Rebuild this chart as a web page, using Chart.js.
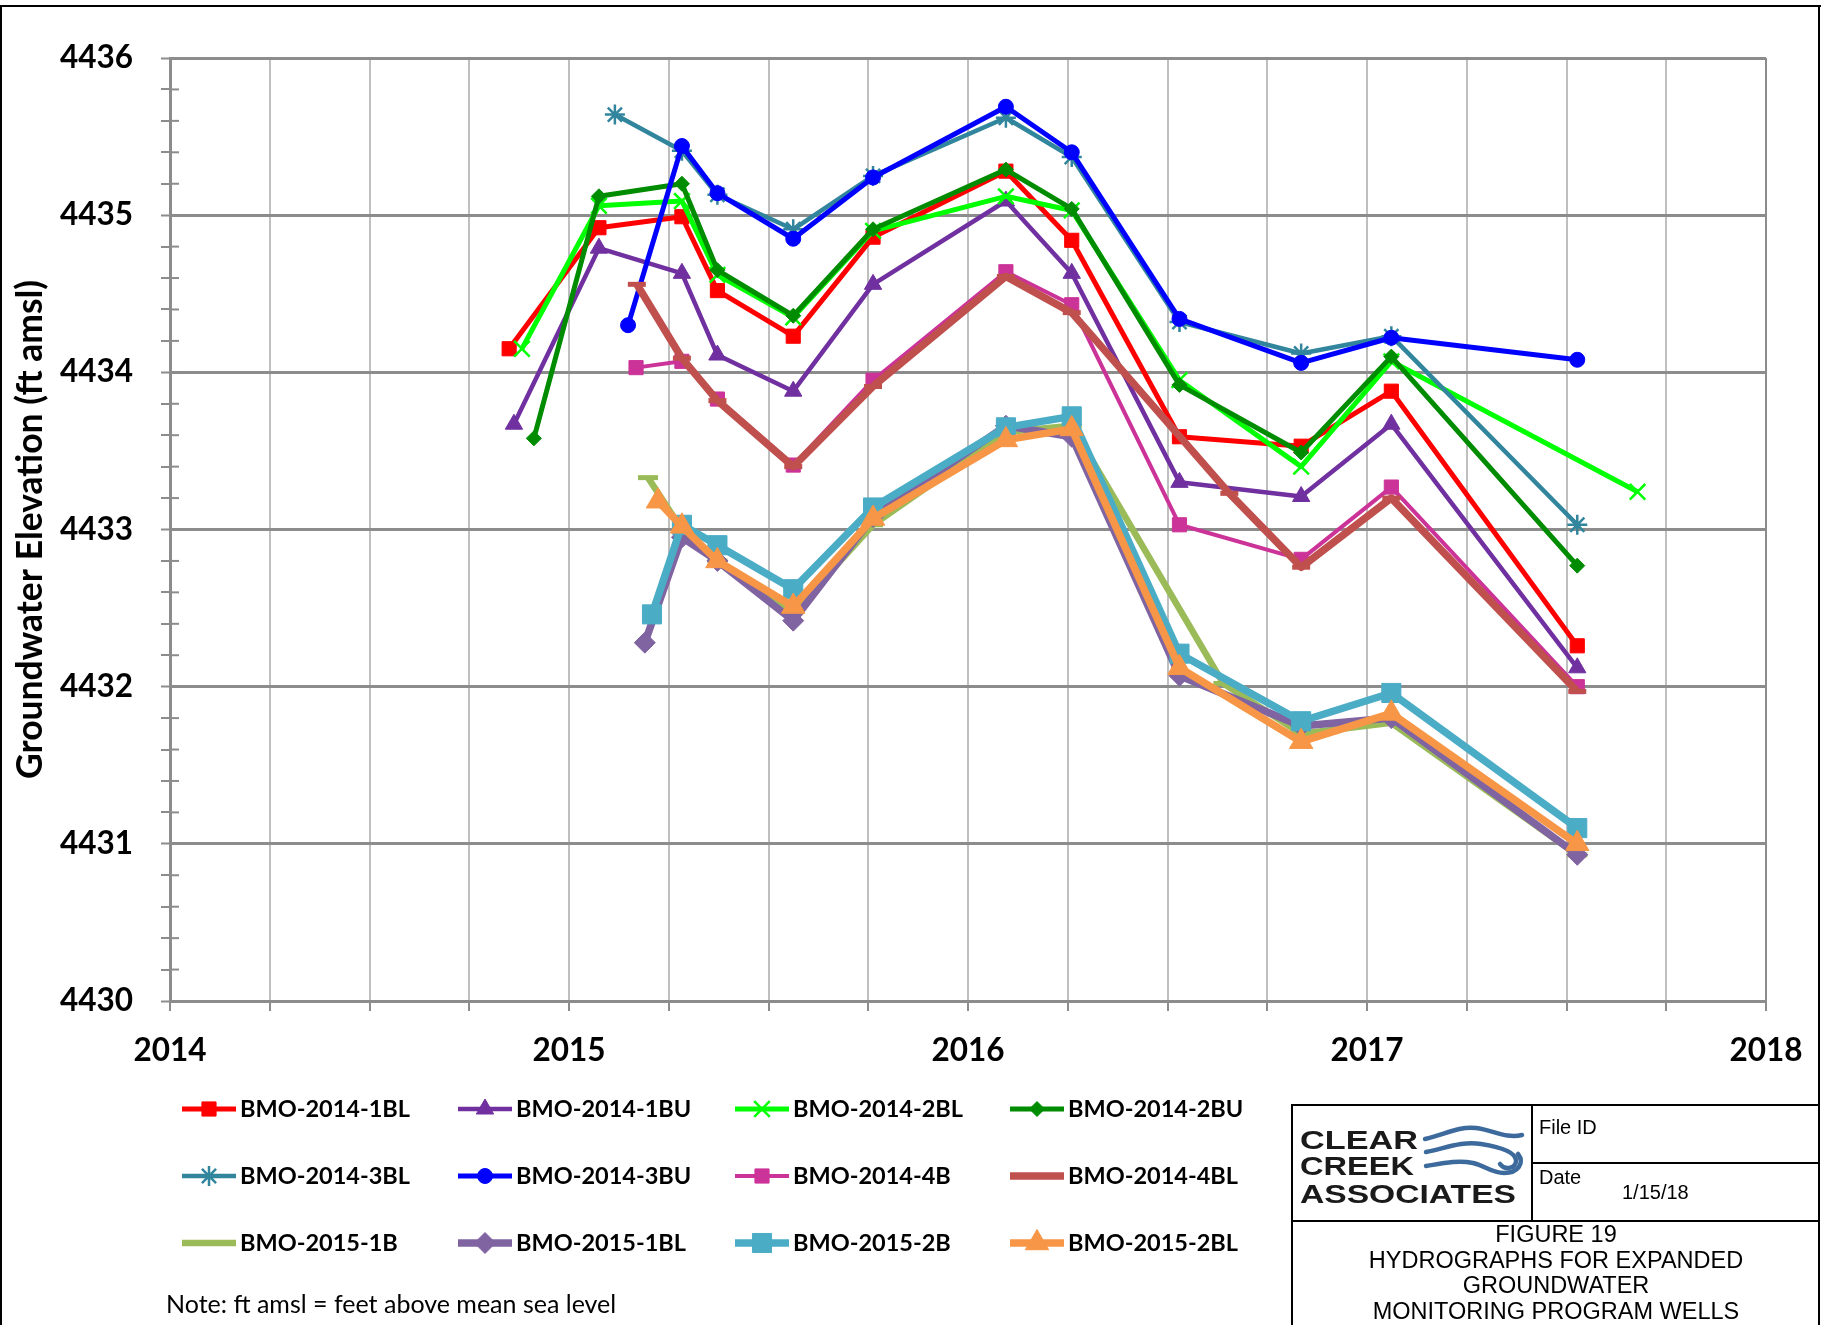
<!DOCTYPE html>
<html>
<head>
<meta charset="utf-8">
<title>Hydrographs</title>
<script src="https://cdn.jsdelivr.net/npm/chart.js@4.4.1/dist/chart.umd.min.js"></script>
<style>
  body { margin: 0; background: #fff; }
  #page { position: relative; width: 1828px; height: 1325px; overflow: hidden; background: #fff; }
  #board { position: absolute; left: 0; top: 0; }
  .rule { position: absolute; background: #000; }
  .tb { position: absolute; font-family: "Liberation Sans", Arial, sans-serif; color: #000; white-space: nowrap; }
  #note { position: absolute; left: 166px; top: 1288px; font: 25px Lato, sans-serif; line-height: 30px; color: #000; }
</style>
</head>
<body>
<div id="page">
  <canvas id="board" width="1828" height="1325"></canvas>

  <!-- sheet frame -->
  <div class="rule" style="left:0;top:5px;width:1821px;height:2px"></div>
  <div class="rule" style="left:0;top:5px;width:2px;height:1320px"></div>
  <div class="rule" style="left:1818px;top:5px;width:2px;height:1320px"></div>

  <div id="note">Note: ft amsl = feet above mean sea level</div>

  <!-- title block -->
  <div class="rule" style="left:1291px;top:1104px;width:529px;height:2px"></div>
  <div class="rule" style="left:1291px;top:1104px;width:2px;height:221px"></div>
  <div class="rule" style="left:1531px;top:1104px;width:2px;height:118px"></div>
  <div class="rule" style="left:1532px;top:1162px;width:288px;height:2px"></div>
  <div class="rule" style="left:1291px;top:1220px;width:529px;height:2px"></div>

  <svg style="position:absolute;left:1292px;top:1106px" width="240" height="114">
    <g font-family="Liberation Sans, Arial, sans-serif" font-weight="bold" font-size="26" fill="#1a1a1a">
      <text x="8" y="43" textLength="118" lengthAdjust="spacingAndGlyphs">CLEAR</text>
      <text x="8" y="69" textLength="114" lengthAdjust="spacingAndGlyphs">CREEK</text>
      <text x="8" y="97" textLength="216" lengthAdjust="spacingAndGlyphs">ASSOCIATES</text>
    </g>
    <g fill="none" stroke="#3d6a9c" stroke-width="4.5" stroke-linecap="round">
      <path d="M133,33 C152,29 166,20 184,22 C201,24 214,33 230,29"/>
      <path d="M134,46 C154,42 170,35 189,38 C208,41 223,46 224,54 C225,62 213,65 208,58"/>
      <path d="M134,60 C152,57 166,54 181,57 C194,60 199,67 212,67 C226,67 233,57 226,48"/>
    </g>
  </svg>

  <div class="tb" style="left:1539px;top:1115px;font-size:20px;line-height:24px">File ID</div>
  <div class="tb" style="left:1539px;top:1165px;font-size:20px;line-height:24px">Date</div>
  <div class="tb" style="left:1622px;top:1180px;font-size:20px;line-height:24px">1/15/18</div>
  <div class="tb" style="left:1292px;top:1222px;width:528px;text-align:center;font-size:23.5px;line-height:25.7px">
    FIGURE 19<br>HYDROGRAPHS FOR EXPANDED<br>GROUNDWATER<br>MONITORING PROGRAM WELLS
  </div>
</div>

<script>
// well names
const wells = [
  "BMO-2014-1BL", "BMO-2014-1BU", "BMO-2014-2BL", "BMO-2014-2BU",
  "BMO-2014-3BL", "BMO-2014-3BU", "BMO-2014-4B", "BMO-2014-4BL",
  "BMO-2015-1B", "BMO-2015-1BL", "BMO-2015-2B", "BMO-2015-2BL"
];

// sampling dates (decimal year) and groundwater elevations (ft amsl)
const t_2014_1BL = [2014.850, 2015.075, 2015.283, 2015.372, 2015.562, 2015.762, 2016.095, 2016.260, 2016.530, 2016.835, 2017.061, 2017.527];
const h_2014_1BL = [4434.15, 4434.92, 4434.99, 4434.52, 4434.23, 4434.86, 4435.28, 4434.84, 4433.59, 4433.53, 4433.88, 4432.26];

const t_2014_1BU = [2014.862, 2015.075, 2015.283, 2015.372, 2015.562, 2015.762, 2016.095, 2016.260, 2016.530, 2016.835, 2017.061, 2017.527];
const h_2014_1BU = [4433.67, 4434.79, 4434.63, 4434.11, 4433.88, 4434.56, 4435.09, 4434.63, 4433.30, 4433.21, 4433.67, 4432.12];

const t_2014_2BL = [2014.882, 2015.075, 2015.283, 2015.372, 2015.562, 2015.762, 2016.095, 2016.260, 2016.530, 2016.835, 2017.061, 2017.678];
const h_2014_2BL = [4434.15, 4435.06, 4435.09, 4434.62, 4434.35, 4434.90, 4435.12, 4435.03, 4433.95, 4433.40, 4434.07, 4433.24];

const t_2014_2BU = [2014.912, 2015.075, 2015.283, 2015.372, 2015.562, 2015.762, 2016.095, 2016.260, 2016.530, 2016.835, 2017.061, 2017.527];
const h_2014_2BU = [4433.58, 4435.12, 4435.20, 4434.65, 4434.36, 4434.91, 4435.29, 4435.04, 4433.92, 4433.49, 4434.10, 4432.77];

const t_2014_3BL = [2015.115, 2015.283, 2015.372, 2015.562, 2015.762, 2016.095, 2016.260, 2016.530, 2016.835, 2017.061, 2017.527];
const h_2014_3BL = [4435.64, 4435.41, 4435.13, 4434.91, 4435.25, 4435.62, 4435.37, 4434.32, 4434.12, 4434.23, 4433.03];

const t_2014_3BU = [2015.148, 2015.283, 2015.372, 2015.562, 2015.762, 2016.095, 2016.260, 2016.530, 2016.835, 2017.061, 2017.527];
const h_2014_3BU = [4434.30, 4435.44, 4435.14, 4434.85, 4435.24, 4435.69, 4435.40, 4434.34, 4434.06, 4434.22, 4434.08];

const t_2014_4B = [2015.168, 2015.283, 2015.372, 2015.562, 2015.762, 2016.095, 2016.260, 2016.530, 2016.835, 2017.061, 2017.527];
const h_2014_4B = [4434.03, 4434.07, 4433.83, 4433.41, 4433.95, 4434.64, 4434.43, 4433.03, 4432.81, 4433.27, 4432.00];

const t_2014_4BL = [2015.170, 2015.283, 2015.372, 2015.562, 2015.762, 2016.095, 2016.260, 2016.655, 2016.835, 2017.061, 2017.527];
const h_2014_4BL = [4434.56, 4434.09, 4433.82, 4433.40, 4433.91, 4434.61, 4434.38, 4433.23, 4432.76, 4433.20, 4431.97];

const t_2015_1B = [2015.198, 2015.283, 2015.372, 2015.562, 2015.762, 2016.095, 2016.260, 2016.640, 2016.835, 2017.061, 2017.527];
const h_2015_1B = [4433.33, 4433.00, 4432.80, 4432.47, 4433.03, 4433.62, 4433.66, 4432.02, 4431.70, 4431.77, 4430.93];

const t_2015_1BL = [2015.190, 2015.283, 2015.372, 2015.562, 2015.762, 2016.095, 2016.260, 2016.530, 2016.835, 2017.061, 2017.527];
const h_2015_1BL = [4432.28, 4432.95, 4432.80, 4432.42, 4433.08, 4433.66, 4433.59, 4432.07, 4431.75, 4431.80, 4430.93];

const t_2015_2B = [2015.208, 2015.283, 2015.372, 2015.562, 2015.762, 2016.095, 2016.260, 2016.530, 2016.835, 2017.061, 2017.527];
const h_2015_2B = [4432.46, 4433.03, 4432.90, 4432.62, 4433.14, 4433.65, 4433.72, 4432.21, 4431.78, 4431.96, 4431.10];

const t_2015_2BL = [2015.223, 2015.283, 2015.372, 2015.562, 2015.762, 2016.095, 2016.260, 2016.530, 2016.835, 2017.061, 2017.527];
const h_2015_2BL = [4433.18, 4433.02, 4432.80, 4432.51, 4433.07, 4433.57, 4433.64, 4432.12, 4431.65, 4431.83, 4431.00];

const series = [
  [t_2014_1BL, h_2014_1BL], [t_2014_1BU, h_2014_1BU], [t_2014_2BL, h_2014_2BL], [t_2014_2BU, h_2014_2BU],
  [t_2014_3BL, h_2014_3BL], [t_2014_3BU, h_2014_3BU], [t_2014_4B, h_2014_4B], [t_2014_4BL, h_2014_4BL],
  [t_2015_1B, h_2015_1B], [t_2015_1BL, h_2015_1BL], [t_2015_2B, h_2015_2B], [t_2015_2BL, h_2015_2BL]
];

// line / marker look of each well
const looks = [
  { color: "#FF0000", width: 5,   style: "rect",     r: 10,   pw: 1 },
  { color: "#7030A0", width: 4.5, style: "triangle", r: 10,   pw: 1 },
  { color: "#00FF00", width: 5,   style: "crossRot", r: 11,   pw: 2.5 },
  { color: "#008C00", width: 5,   style: "rectRot",  r: 7.5,  pw: 1 },
  { color: "#31859C", width: 4.5, style: "star",     r: 10,   pw: 2.5 },
  { color: "#0000FF", width: 5,   style: "circle",   r: 7.5,  pw: 1 },
  { color: "#CC3399", width: 4,   style: "rect",     r: 10,   pw: 1 },
  { color: "#C0504D", width: 7.5, style: "line",     r: 9,    pw: 5 },
  { color: "#9BBB59", width: 6.5, style: "line",     r: 10,   pw: 5 },
  { color: "#8064A2", width: 7.5, style: "rectRot",  r: 10.5, pw: 1 },
  { color: "#4BACC6", width: 7.5, style: "rect",     r: 13.5, pw: 1 },
  { color: "#F79646", width: 7.5, style: "triangle", r: 13.5, pw: 1 }
];

const datasets = series.map(([t, h], i) => {
  const s = looks[i];
  return {
    label: wells[i],
    data: t.map((x, k) => ({ x: x, y: h[k] })),
    borderColor: s.color,
    backgroundColor: s.color,
    borderWidth: s.width,
    borderJoinStyle: "round",
    tension: 0,
    pointStyle: s.style,
    pointRadius: s.r,
    pointHoverRadius: s.r,
    pointBorderWidth: s.pw,
    pointBackgroundColor: s.color,
    pointBorderColor: s.color,
    // later wells sit on top
    order: series.length - i
  };
});

const whole = v => Math.abs(v - Math.round(v)) < 1e-6;

// short tick marks on the inside of the y axis
const innerTicks = {
  id: "innerTicks",
  beforeDatasetsDraw(chart) {
    const y = chart.scales.y, ctx = chart.ctx, left = chart.chartArea.left;
    ctx.save();
    ctx.strokeStyle = "#8C8C8C";
    ctx.lineWidth = 2;
    y.ticks.forEach(t => {
      const py = y.getPixelForValue(t.value);
      ctx.beginPath();
      ctx.moveTo(left, py);
      ctx.lineTo(left + 9, py);
      ctx.stroke();
    });
    ctx.restore();
  }
};

// 4 x 3 legend under the plot
const legendCols = [182, 458, 735, 1010];
const legendRows = [1109, 1176, 1243];
const gridLegend = {
  id: "gridLegend",
  afterDraw(chart) {
    const ctx = chart.ctx;
    chart.data.datasets.forEach((ds, i) => {
      const x = legendCols[i % 4], y = legendRows[Math.floor(i / 4)];
      ctx.save();
      ctx.strokeStyle = ds.borderColor;
      ctx.lineWidth = ds.borderWidth;
      ctx.beginPath();
      ctx.moveTo(x, y);
      ctx.lineTo(x + 54, y);
      ctx.stroke();
      ctx.fillStyle = ds.pointBackgroundColor;
      ctx.lineWidth = ds.pointBorderWidth;
      Chart.helpers.drawPoint(ctx, {
        pointStyle: ds.pointStyle, radius: ds.pointRadius,
        borderWidth: ds.pointBorderWidth, rotation: 0
      }, x + 27, y);
      ctx.fillStyle = "#000";
      ctx.font = "bold 23.5px Lato";
      ctx.textBaseline = "middle";
      ctx.textAlign = "left";
      ctx.fillText(ds.label, x + 58, y);
      ctx.restore();
    });
  }
};

function draw() {
  new Chart(document.getElementById("board"), {
    type: "line",
    data: { datasets: datasets },
    options: {
      responsive: false,
      animation: false,
      devicePixelRatio: 1,
      events: [],
      layout: { padding: { top: 58, right: 62, bottom: 254, left: 0 } },
      plugins: { legend: { display: false }, tooltip: { enabled: false } },
      scales: {
        x: {
          type: "linear",
          min: 2014,
          max: 2018,
          afterFit: s => { s.height = 70; },
          ticks: {
            stepSize: 0.25,
            autoSkip: false,
            maxRotation: 0,
            padding: 21,
            color: "#000",
            font: { family: "Lato", size: 31.5, weight: "bold" },
            callback: v => whole(v) ? String(Math.round(v)) : ""
          },
          grid: {
            color: c => (c.tick && c.tick.value === 2018) ? "#8C8C8C" : "#BFBFBF",
            lineWidth: 2,
            tickLength: 10,
            tickColor: "#8C8C8C",
            tickWidth: 2
          },
          border: { color: "#8C8C8C", width: 3 }
        },
        y: {
          min: 4430,
          max: 4436,
          afterFit: s => { s.width = 170; },
          ticks: {
            stepSize: 0.2,
            autoSkip: false,
            padding: 28,
            color: "#000",
            font: { family: "Lato", size: 31.5, weight: "bold" },
            callback: v => whole(v) ? String(Math.round(v)) : ""
          },
          grid: {
            color: c => (c.tick && whole(c.tick.value)) ? "#8C8C8C" : "rgba(0,0,0,0)",
            lineWidth: c => (c.tick && whole(c.tick.value)) ? 3 : 0,
            tickLength: 9,
            tickColor: "#8C8C8C",
            tickWidth: 2
          },
          border: { color: "#8C8C8C", width: 3 },
          title: {
            display: true,
            text: "Groundwater Elevation (ft amsl)",
            color: "#000",
            font: { family: "Lato", size: 35.5, weight: "bold" },
            padding: { top: 9, bottom: 0 }
          }
        }
      }
    },
    plugins: [innerTicks, gridLegend]
  });
}

Promise.all([
  document.fonts.load("bold 31px Lato"),
  document.fonts.load("23px Lato")
]).then(draw, draw);
</script>
</body>
</html>
